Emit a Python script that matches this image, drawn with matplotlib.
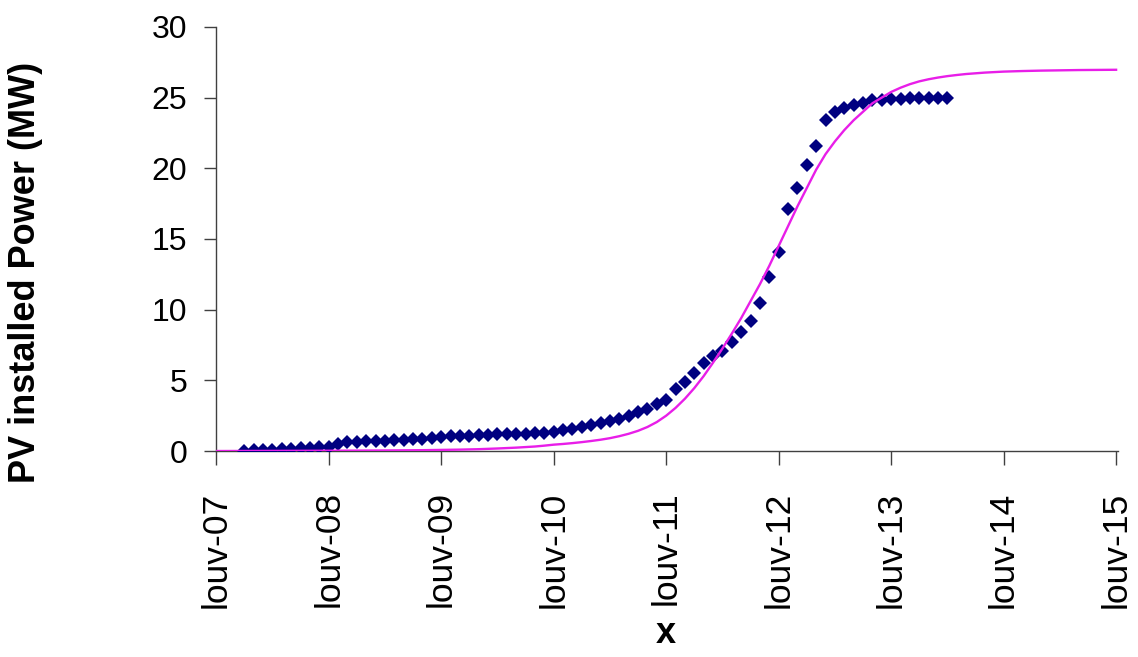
import matplotlib.pyplot as plt

# measured installed PV power, one point per month (months counted from louv-07)
months = list(range(3, 79))
power_mw = [
    0.02, 0.05, 0.08, 0.10, 0.13, 0.16, 0.20, 0.23, 0.27, 0.32,   # 3-12
    0.50, 0.62, 0.65, 0.68, 0.70, 0.72, 0.75, 0.78, 0.82, 0.86,   # 13-22
    0.90, 0.98, 1.03, 1.06, 1.09, 1.12, 1.14, 1.17, 1.19, 1.21,   # 23-32
    1.23, 1.26, 1.30, 1.38, 1.47, 1.58, 1.72, 1.86, 2.00, 2.15,   # 33-42
    2.30, 2.50, 2.75, 3.00, 3.30, 3.60, 4.40, 4.90, 5.50, 6.20,   # 43-52
    6.70, 7.10, 7.70, 8.40, 9.20, 10.5, 12.3, 14.1, 17.1, 18.6,   # 53-62
    20.2, 21.6, 23.4, 24.0, 24.3, 24.5, 24.6, 24.8, 24.8, 24.9,   # 63-72
    24.9, 25.0, 25.0, 25.0, 25.0, 25.0,                           # 73-78
]

# fitted S-curve, sampled along the same month axis
fit_months = [0, 6, 12, 18, 22, 26, 28, 30, 32, 34, 35] + list(range(36, 81)) \
    + [82, 84, 86, 88, 92, 96]
fit_mw = [
    0.0, 0.01, 0.02, 0.04, 0.06, 0.10, 0.13, 0.18, 0.24, 0.32, 0.38,  # 0-35
    0.45, 0.50, 0.56, 0.63, 0.71, 0.80, 0.91, 1.05, 1.22, 1.43,       # 36-45
    1.70, 2.05, 2.50, 3.05, 3.70, 4.45, 5.30, 6.25, 7.25, 8.30,       # 46-55
    9.40, 10.6, 11.8, 13.1, 14.5, 15.9, 17.3, 18.6, 19.9, 21.0,       # 56-65
    21.9, 22.7, 23.4, 24.0, 24.6, 25.0, 25.4, 25.7, 25.95, 26.15,     # 66-75
    26.3, 26.42, 26.52, 26.6, 26.67,                                  # 76-80
    26.77, 26.84, 26.88, 26.91, 26.95, 26.97,                         # 82-96
]

tick_months = [0, 12, 24, 36, 48, 60, 72, 84, 96]
tick_labels = ['louv-07', 'louv-08', 'louv-09', 'louv-10', 'louv-11',
               'louv-12', 'louv-13', 'louv-14', 'louv-15']

plt.rcParams['font.family'] = ['Liberation Sans', 'DejaVu Sans']

fig = plt.figure(figsize=(11.38, 6.57), dpi=100)
ax = fig.add_axes([0.19, 0.3135, 0.7924, 0.6455])

ax.plot(months, power_mw, linestyle='none', marker='D', markersize=7.6,
        color='#000080', markeredgewidth=0, zorder=3)
ax.plot(fit_months, fit_mw, color='#e81ee8', linewidth=1.7, zorder=4)

ax.set_xlim(0, 96.2)
ax.set_ylim(0, 30)
ax.set_yticks([0, 5, 10, 15, 20, 25, 30])
ax.set_xticks(tick_months)
ax.set_xticklabels(tick_labels, rotation=90, va='top', ha='center')

for side in ('top', 'right'):
    ax.spines[side].set_visible(False)
for side in ('left', 'bottom'):
    ax.spines[side].set_color('#404040')
    ax.spines[side].set_linewidth(1.0)

ax.tick_params(axis='y', direction='out', length=9, width=1, color='#404040',
               labelsize=23, pad=12)
ax.tick_params(axis='x', direction='out', length=10, width=1, color='#404040',
               labelsize=25.5, pad=19)

fig.text(0.022, 0.585, 'PV installed Power (MW)', rotation=90, ha='center',
         va='center', fontsize=26, fontweight='bold')
fig.text(0.585, 0.009, 'x', ha='center', va='bottom', fontsize=26,
         fontweight='bold')

fig.savefig('out.png', dpi=100)
